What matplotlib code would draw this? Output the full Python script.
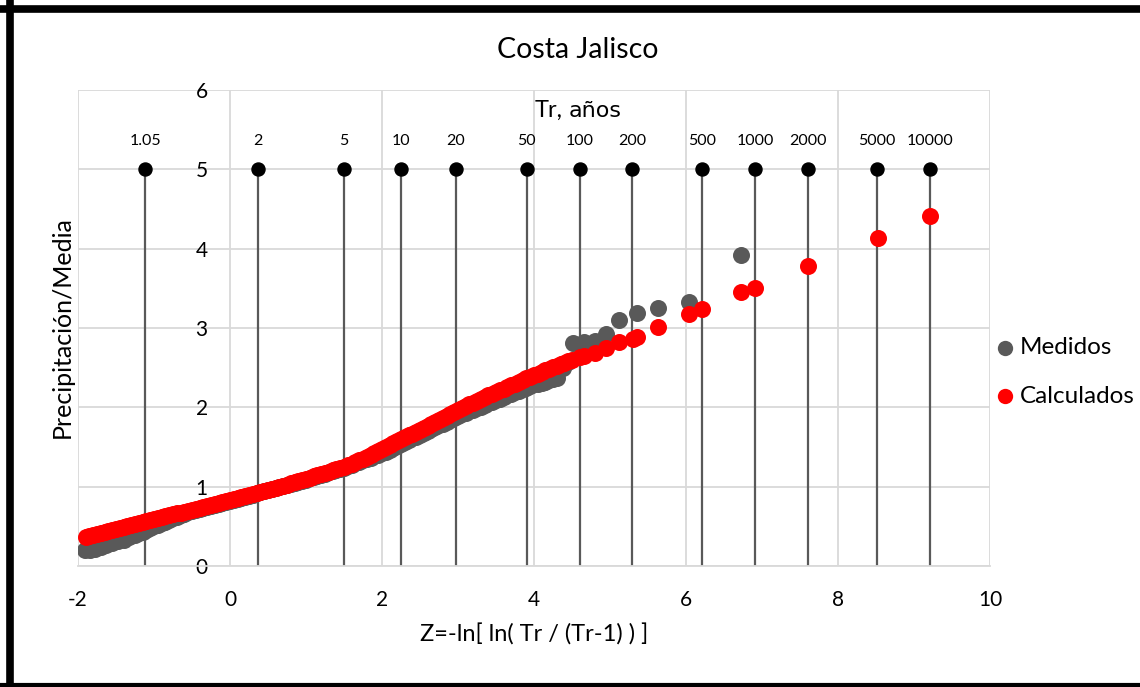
import numpy as np
import matplotlib.pyplot as plt
from matplotlib.lines import Line2D

plt.rcParams['font.family'] = ['Lato', 'DejaVu Sans']
plt.rcParams['axes.unicode_minus'] = False

# Periodos de retorno marcados en la parte superior
tr_labels = ['1.05', '2', '5', '10', '20', '50', '100', '200', '500', '1000', '2000', '5000', '10000']
tr_vals = [1.05, 2, 5, 10, 20, 50, 100, 200, 500, 1000, 2000, 5000, 10000]

# Medidos (variable reducida Z, precipitación/media)
z_med = [-1.91, -1.84, -1.78, -1.70, -1.63, -1.55, -1.48, -1.40, -1.33, -1.25, -1.20,
         -1.15, -1.10, -1.05, -1.00, -0.95, -0.90, -0.85, -0.80, -0.75, -0.70,
         -0.65, -0.60, -0.55, -0.50, -0.45, -0.40, -0.35, -0.30, -0.25, -0.20,
         -0.15, -0.10, -0.05, 0.00, 0.05, 0.10, 0.15, 0.20, 0.25, 0.30,
         0.35, 0.40, 0.45, 0.50, 0.55, 0.60, 0.65, 0.70, 0.75, 0.80,
         0.85, 0.90, 0.95, 1.00, 1.05, 1.10, 1.15, 1.20, 1.25, 1.30,
         1.35, 1.40, 1.45, 1.50, 1.55, 1.60, 1.65, 1.70, 1.75, 1.80,
         1.85, 1.90, 1.95, 2.00, 2.05, 2.10, 2.15, 2.20, 2.25, 2.30,
         2.35, 2.40, 2.45, 2.50, 2.55, 2.60, 2.65, 2.70, 2.75, 2.80,
         2.85, 2.90, 2.95, 3.00, 3.05, 3.10, 3.15, 3.20, 3.25, 3.30,
         3.35, 3.40, 3.45, 3.50, 3.55, 3.60, 3.65, 3.70, 3.75, 3.80,
         3.85, 3.90, 3.95, 4.00, 4.05, 4.10, 4.15, 4.20, 4.25, 4.30,
         4.38, 4.45, 4.51, 4.66, 4.80, 4.95, 5.12, 5.36, 5.63, 6.04, 6.72]
p_med = [0.20, 0.20, 0.21, 0.24, 0.26, 0.285, 0.31, 0.33, 0.36, 0.39, 0.41,
         0.43, 0.45, 0.475, 0.50, 0.52, 0.54, 0.56, 0.58, 0.60, 0.62,
         0.64, 0.66, 0.675, 0.69, 0.703, 0.716, 0.729, 0.742, 0.755, 0.768,
         0.781, 0.794, 0.807, 0.820, 0.833, 0.847, 0.860, 0.874, 0.887, 0.901,
         0.914, 0.928, 0.941, 0.955, 0.968, 0.982, 0.995, 1.009, 1.022, 1.036,
         1.049, 1.063, 1.076, 1.090, 1.105, 1.120, 1.135, 1.150, 1.165, 1.180,
         1.195, 1.210, 1.225, 1.240, 1.258, 1.276, 1.294, 1.312, 1.330, 1.348,
         1.366, 1.384, 1.402, 1.420, 1.443, 1.467, 1.490, 1.514, 1.537, 1.561,
         1.584, 1.608, 1.631, 1.655, 1.678, 1.702, 1.725, 1.749, 1.772, 1.796,
         1.819, 1.843, 1.866, 1.890, 1.910, 1.930, 1.950, 1.970, 1.990, 2.010,
         2.030, 2.050, 2.070, 2.090, 2.110, 2.130, 2.150, 2.170, 2.190, 2.210,
         2.230, 2.250, 2.270, 2.290, 2.300, 2.310, 2.325, 2.340, 2.355, 2.370,
         2.50, 2.57, 2.81, 2.82, 2.84, 2.93, 3.10, 3.19, 3.25, 3.33, 3.92]

# Calculados
z_cal = [-1.90, -1.85, -1.80, -1.75, -1.70, -1.65, -1.60, -1.55, -1.50, -1.45,
         -1.40, -1.35, -1.30, -1.25, -1.20, -1.15, -1.10, -1.05, -1.00, -0.95,
         -0.90, -0.85, -0.80, -0.75, -0.70, -0.65, -0.60, -0.55, -0.50, -0.45,
         -0.40, -0.35, -0.30, -0.25, -0.20, -0.15, -0.10, -0.05, 0.00, 0.05,
         0.10, 0.15, 0.20, 0.25, 0.30, 0.35, 0.40, 0.45, 0.50, 0.55,
         0.60, 0.65, 0.70, 0.75, 0.80, 0.85, 0.90, 0.95, 1.00, 1.05,
         1.10, 1.15, 1.20, 1.25, 1.30, 1.35, 1.40, 1.45, 1.50, 1.55,
         1.60, 1.65, 1.70, 1.75, 1.80, 1.85, 1.90, 1.95, 2.00, 2.05,
         2.10, 2.15, 2.20, 2.25, 2.30, 2.35, 2.40, 2.45, 2.50, 2.55,
         2.60, 2.65, 2.70, 2.75, 2.80, 2.85, 2.90, 2.95, 3.00, 3.05,
         3.10, 3.15, 3.20, 3.25, 3.30, 3.35, 3.40, 3.45, 3.50, 3.55,
         3.60, 3.65, 3.70, 3.75, 3.80, 3.85, 3.90, 3.95, 4.00, 4.05,
         4.10, 4.15, 4.20, 4.25, 4.30, 4.35, 4.40, 4.45, 4.50,
         4.60, 4.66, 4.80, 4.95, 5.12, 5.30, 5.36, 5.63, 6.04, 6.21,
         6.72, 6.91, 7.60, 8.52, 9.21]
p_cal = [0.370, 0.382, 0.395, 0.407, 0.420, 0.432, 0.444, 0.456, 0.468, 0.480,
         0.492, 0.504, 0.516, 0.528, 0.540, 0.553, 0.565, 0.577, 0.590, 0.602,
         0.614, 0.626, 0.638, 0.650, 0.662, 0.674, 0.686, 0.698, 0.710, 0.722,
         0.734, 0.746, 0.758, 0.770, 0.782, 0.794, 0.806, 0.818, 0.830, 0.843,
         0.856, 0.868, 0.881, 0.894, 0.907, 0.920, 0.933, 0.946, 0.960, 0.973,
         0.986, 1.000, 1.013, 1.027, 1.041, 1.055, 1.070, 1.085, 1.100, 1.115,
         1.130, 1.145, 1.160, 1.175, 1.190, 1.205, 1.220, 1.235, 1.250, 1.270,
         1.290, 1.310, 1.330, 1.350, 1.372, 1.395, 1.420, 1.445, 1.470, 1.495,
         1.520, 1.545, 1.570, 1.595, 1.620, 1.645, 1.670, 1.695, 1.720, 1.745,
         1.770, 1.795, 1.820, 1.845, 1.870, 1.895, 1.920, 1.945, 1.970, 1.992,
         2.015, 2.037, 2.060, 2.082, 2.105, 2.127, 2.150, 2.172, 2.195, 2.215,
         2.237, 2.258, 2.280, 2.300, 2.322, 2.343, 2.365, 2.385, 2.405, 2.425,
         2.445, 2.465, 2.485, 2.505, 2.525, 2.543, 2.562, 2.580, 2.598,
         2.63, 2.65, 2.69, 2.75, 2.82, 2.86, 2.89, 3.01, 3.18, 3.24,
         3.45, 3.51, 3.78, 4.14, 4.41]

fig = plt.figure(figsize=(11.4, 6.87), dpi=100)
ax = fig.add_axes([78 / 1140, 1 - 566 / 687, 912 / 1140, 476 / 687])

# posición de cada periodo de retorno en la escala Gumbel
tr = np.array(tr_vals)
z_tr = -np.log(np.log(tr / (tr - 1)))

ax.vlines(z_tr, 0, 5, color='#595959', linewidth=1.6, zorder=2)
ax.scatter(z_tr, np.full(len(z_tr), 5), s=88, color='black', zorder=5)
for z, lab in zip(z_tr, tr_labels):
    ax.text(z, 5.36, lab, ha='center', va='center', fontsize=11.5)

med = ax.scatter(z_med, p_med, s=150, color='#595959', linewidths=0, zorder=3, label='Medidos')
cal = ax.scatter(z_cal, p_cal, s=150, color='#ff0000', linewidths=0, zorder=4, label='Calculados')

ax.text(4.01, 5.66, 'Tr,', fontsize=17, ha='left', va='baseline')
ax.text(4.45, 5.66, 'años', fontsize=16, ha='left', va='baseline', family='DejaVu Sans')

ax.set_xlim(-2, 10)
ax.set_ylim(0, 6)
ax.set_xticks(np.arange(-2, 11, 2))
ax.set_yticks(np.arange(0, 7, 1))
ax.grid(True, color='#d9d9d9', linewidth=1.3, zorder=0)
ax.set_axisbelow(True)
for side in ['top', 'right', 'left']:
    ax.spines[side].set_visible(False)
ax.spines['bottom'].set_color('#d9d9d9')
ax.spines['bottom'].set_linewidth(1.3)
# eje vertical cruzando en Z = 0
ax.spines['left'].set_position(('data', 0))
ax.tick_params(axis='y', length=0, pad=16, labelsize=15)
ax.tick_params(axis='x', length=0, pad=17, labelsize=15)

ax.set_xlabel('Z=-ln[ ln( Tr / (Tr-1) ) ]', fontsize=17, labelpad=10)
fig.text(62 / 1140, 1 - 327 / 687, 'Precipitación/Media', rotation=90,
         ha='center', va='center', fontsize=18)
fig.text(578 / 1140, 1 - 50 / 687, 'Costa Jalisco', ha='center', va='center', fontsize=20.5)

fig.legend(handles=[med, cal], loc='center left', bbox_to_anchor=(994 / 1140, 1 - 372 / 687),
           frameon=False, fontsize=17.5, handletextpad=0.15, handlelength=0.9,
           labelspacing=1.12, markerscale=0.9, borderpad=0, borderaxespad=0)

# marco negro del gráfico
fig.add_artist(Line2D([0.0085, 0.0085], [0, 1], transform=fig.transFigure, color='black',
                      linewidth=5.5, solid_capstyle='butt'))
fig.add_artist(Line2D([0, 1], [1 - 9 / 687, 1 - 9 / 687], transform=fig.transFigure, color='black',
                      linewidth=5.5, solid_capstyle='butt'))
fig.add_artist(Line2D([0, 1], [2 / 687, 2 / 687], transform=fig.transFigure, color='black',
                      linewidth=3, solid_capstyle='butt'))

fig.savefig('out.png', dpi=100)
